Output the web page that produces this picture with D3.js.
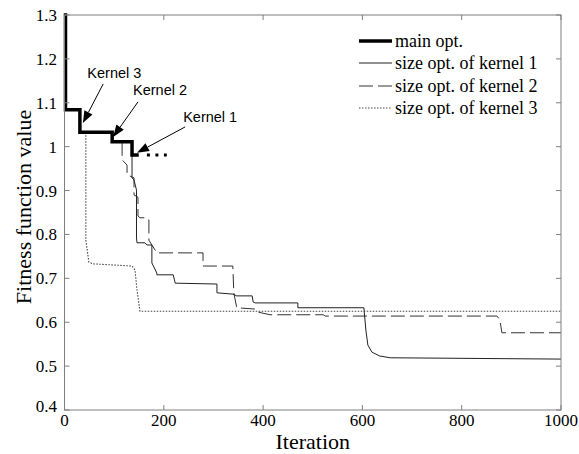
<!DOCTYPE html>
<html><head><meta charset="utf-8">
<script src="https://cdn.jsdelivr.net/npm/d3@7"></script>
<style>html,body{margin:0;padding:0;background:#fff;}svg{display:block;}</style>
</head><body>
<script>
// ---- data ----
const xTicks = [0, 200, 400, 600, 800, 1000];
const yTicks = [0.4, 0.5, 0.6, 0.7, 0.8, 0.9, 1.0, 1.1, 1.2, 1.3];
const yTickLabels = ["0.4","0.5","0.6","0.7","0.8","0.9","1","1.1","1.2","1.3"];

const mainOpt = [[2,1.3],[2,1.084],[31,1.084],[31,1.033],[96,1.033],[96,1.011],[136,1.011],[136,0.981],[146,0.981]];
const mainOptDots = [[166,0.981],[206,0.981]];

const kernel1 = [[136,0.981],[136,0.929],[140,0.924],[145,0.901],[145,0.792],[146,0.781],[162,0.781],[166,0.776],[176,0.776],[176,0.735],[186,0.712],[186,0.708],[219,0.708],[223,0.689],[307,0.687],[307,0.667],[339,0.664],[347,0.660],[378,0.660],[380,0.646],[384,0.644],[470,0.644],[470,0.633],[603,0.633],[607,0.582],[611,0.548],[619,0.532],[635,0.523],[656,0.519],[1000,0.516]];

const kernel2 = [[116,1.011],[116,0.970],[126,0.958],[126,0.936],[140,0.929],[140,0.890],[148,0.885],[148,0.842],[152,0.838],[166,0.838],[170,0.833],[170,0.787],[176,0.776],[186,0.758],[279,0.758],[279,0.728],[339,0.728],[341,0.667],[347,0.633],[384,0.630],[390,0.623],[414,0.617],[521,0.617],[525,0.614],[871,0.614],[877,0.605],[881,0.576],[1000,0.576]];

const kernel3 = [[43,1.033],[43,0.787],[49,0.737],[57,0.733],[136,0.728],[142,0.719],[146,0.674],[152,0.625],[1000,0.625]];

const legendLabels = ["main opt.","size opt. of kernel 1","size opt. of kernel 2","size opt. of kernel 3"];
const annotLabels = ["Kernel 3","Kernel 2","Kernel 1"];
const annotText = [[46,1.156],[138,1.118],[239,1.056]];
const annotFrom = [[78,1.143],[148,1.102],[243,1.045]];
const annotTip  = [[37,1.054],[98,1.022],[146,0.986]];

// ---- drawing ----
const W = 579, H = 454;
const svg = d3.select("body").append("svg").attr("width", W).attr("height", H);
svg.append("rect").attr("width", W).attr("height", H).attr("fill", "#fff");

const x = d3.scaleLinear().domain([0, 1000]).range([64.5, 561]);
const y = d3.scaleLinear().domain([0.4, 1.3]).range([410, 15]);
const serif = "'Liberation Serif','Times New Roman',serif";
const sans = "'Liberation Sans',Arial,sans-serif";
const axisCol = "#7f7f7f";

const line = d3.line().x(d => x(d[0])).y(d => y(d[1]));

// series
svg.append("path").datum(kernel3).attr("d", line).attr("fill","none")
  .attr("stroke","#444").attr("stroke-width",1.1).attr("stroke-dasharray","1.5,1.5");
svg.append("path").datum(kernel2).attr("d", line).attr("fill","none")
  .attr("stroke","#333").attr("stroke-width",1).attr("stroke-dasharray","14,5");
svg.append("path").datum(kernel1).attr("d", line).attr("fill","none")
  .attr("stroke","#222").attr("stroke-width",1);
svg.append("path").datum(mainOpt).attr("d", line).attr("fill","none")
  .attr("stroke","#000").attr("stroke-width",3.5).attr("stroke-linejoin","miter").attr("stroke-linecap","square");
svg.append("path").datum(mainOptDots).attr("d", line).attr("fill","none")
  .attr("stroke","#000").attr("stroke-width",3).attr("stroke-dasharray","3,5.5");

// frame and ticks
const g = svg.append("g");
g.append("rect").attr("x", x(0)).attr("y", y(1.3)).attr("width", x(1000)-x(0)).attr("height", y(0.4)-y(1.3))
  .attr("fill","none").attr("stroke",axisCol).attr("stroke-width",1);
const tl = 5;
xTicks.forEach(t => {
  g.append("line").attr("x1",x(t)).attr("x2",x(t)).attr("y1",y(0.4)).attr("y2",y(0.4)-tl).attr("stroke",axisCol);
  g.append("line").attr("x1",x(t)).attr("x2",x(t)).attr("y1",y(1.3)).attr("y2",y(1.3)+tl).attr("stroke",axisCol);
  g.append("text").attr("x",x(t)).attr("y",426).attr("text-anchor","middle")
    .attr("font-family",serif).attr("font-size",17).attr("fill","#000").text(t);
});
yTicks.forEach((t,i) => {
  g.append("line").attr("x1",x(0)).attr("x2",x(0)+tl).attr("y1",y(t)).attr("y2",y(t)).attr("stroke",axisCol);
  g.append("line").attr("x1",x(1000)).attr("x2",x(1000)-tl).attr("y1",y(t)).attr("y2",y(t)).attr("stroke",axisCol);
  g.append("text").attr("x",57).attr("y",y(t)+ (i===0 ? 2 : 6)).attr("text-anchor","end")
    .attr("font-family",serif).attr("font-size",17).attr("fill","#000").text(yTickLabels[i]);
});

// axis titles
svg.append("text").attr("x", (x(0)+x(1000))/2).attr("y", 449).attr("text-anchor","middle")
  .attr("font-family",serif).attr("font-size",22).text("Iteration");
svg.append("text").attr("transform","translate(31,207) rotate(-90)")
  .attr("text-anchor","middle").attr("font-family",serif).attr("font-size",22).text("Fitness function value");

// legend
const legY = [41, 63, 86, 108];
const legStyle = [
  {w:3.5, c:"#000", d:null},
  {w:1, c:"#222", d:null},
  {w:1, c:"#333", d:"14,5"},
  {w:1.1, c:"#444", d:"1.5,1.5"}
];
legendLabels.forEach((lab,i) => {
  const s = legStyle[i];
  const l = svg.append("line").attr("x1",359).attr("x2",392).attr("y1",legY[i]).attr("y2",legY[i])
    .attr("stroke",s.c).attr("stroke-width",s.w);
  if (s.d) l.attr("stroke-dasharray", s.d);
  svg.append("text").attr("x",395).attr("y",legY[i]+5.5).attr("font-family",serif).attr("font-size",18).text(lab);
});

// annotations
annotLabels.forEach((lab,i) => {
  svg.append("text").attr("x",x(annotText[i][0])).attr("y",y(annotText[i][1]))
    .attr("font-family",sans).attr("font-size",14.5).text(lab);
  const x1 = x(annotFrom[i][0]), y1 = y(annotFrom[i][1]);
  const x2 = x(annotTip[i][0]), y2 = y(annotTip[i][1]);
  const ang = Math.atan2(y2-y1, x2-x1);
  const L = 12, hw = 4.5;
  const bx = x2 - L*Math.cos(ang), by = y2 - L*Math.sin(ang);
  svg.append("line").attr("x1",x1).attr("y1",y1).attr("x2",bx).attr("y2",by).attr("stroke","#000").attr("stroke-width",1);
  const px = -Math.sin(ang), py = Math.cos(ang);
  svg.append("path").attr("d", `M${x2},${y2}L${bx+hw*px},${by+hw*py}L${bx-hw*px},${by-hw*py}Z`).attr("fill","#000");
});
</script>
</body></html>
